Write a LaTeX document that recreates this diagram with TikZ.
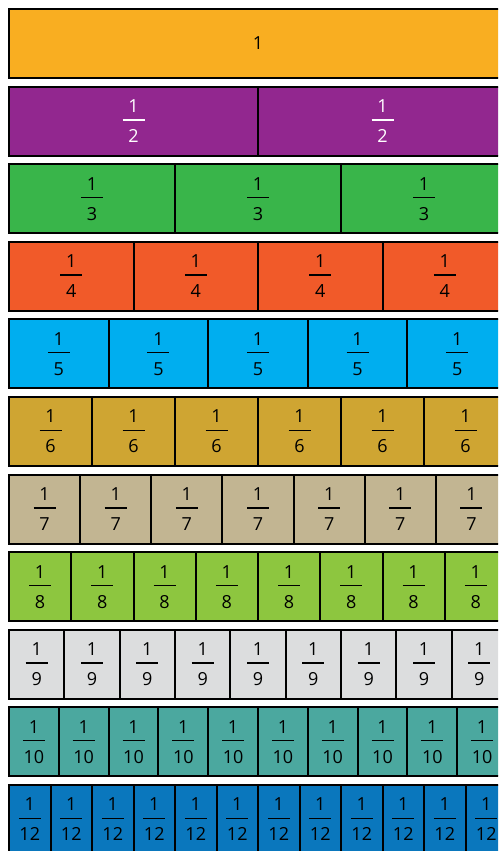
\documentclass[tikz,border=0pt]{standalone}
\usepackage{fontspec}
\setmainfont{Open Sans}
\usepackage{tikz}
\definecolor{one}{HTML}{F9AE21}
\definecolor{half}{HTML}{92278F}
\definecolor{third}{HTML}{39B54A}
\definecolor{fourth}{HTML}{F15A29}
\definecolor{fifth}{HTML}{00AEEF}
\definecolor{sixth}{HTML}{CFA532}
\definecolor{seventh}{HTML}{C2B592}
\definecolor{eighth}{HTML}{8DC63F}
\definecolor{ninth}{HTML}{DCDDDE}
\definecolor{tenth}{HTML}{4BA89F}
\definecolor{twelfth}{HTML}{0A77BD}
\tikzset{
  cell/.style = {draw=black,line width=2pt,rectangle,inner sep=0pt,
                 minimum height=69pt,align=center,
                 font=\fontsize{18}{15}\selectfont},
}
\newcommand{\fr}[1]{1\\\rule[7pt]{22pt}{1.3pt}\\#1}
% one bar of #2 equal parts; #3 = row number from the top (0 = whole)
\newcommand{\fracrow}[4]{%
  \foreach \k in {1,...,#2} {
    \node[cell,#4,minimum width={498pt/#2}] (#1-\k)
      at ({9+(\k-0.5)*498/#2},{43.5+77.6*#3}) {\fr{#2}};
  }%
}

\begin{document}
\begin{tikzpicture}[x=1pt,y=-1pt]
  \useasboundingbox (0,0) rectangle (498,851);
  \clip (0,0) rectangle (498,851);
  \node[cell,fill=one,minimum width=498pt] (whole) at (258,43.5) {1};
  \fracrow{halves}{2}{1}{fill=half,text=white}
  \fracrow{thirds}{3}{2}{fill=third}
  \fracrow{fourths}{4}{3}{fill=fourth}
  \fracrow{fifths}{5}{4}{fill=fifth}
  \fracrow{sixths}{6}{5}{fill=sixth}
  \fracrow{sevenths}{7}{6}{fill=seventh}
  \fracrow{eighths}{8}{7}{fill=eighth}
  \fracrow{ninths}{9}{8}{fill=ninth}
  \fracrow{tenths}{10}{9}{fill=tenth}
  \fracrow{twelfths}{12}{10}{fill=twelfth}
\end{tikzpicture}
\end{document}
